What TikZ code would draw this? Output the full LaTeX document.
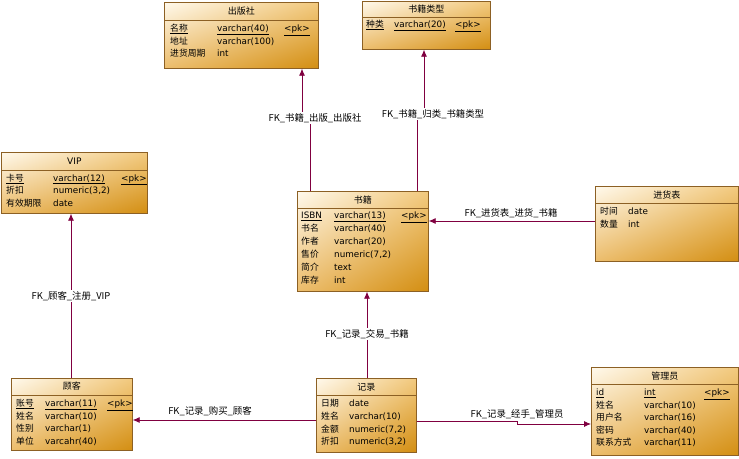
\documentclass[tikz,border=0pt]{standalone}
\usepackage{fontspec}
\setmainfont{DejaVu Sans}
\newfontfamily\cjk{Noto Sans CJK SC}
\usetikzlibrary{arrows.meta,shadings}
\definecolor{bord}{HTML}{8C6024}
\definecolor{fkc}{HTML}{800040}
\definecolor{ga}{HTML}{FFF9EC}
\definecolor{gb}{HTML}{F2C97E}
\definecolor{gc}{HTML}{ECBD6C}
\definecolor{gd}{HTML}{D38E12}
\tikzset{
 tbl/.style={draw=bord, line width=0.7pt, shade, upper left=ga, upper right=gb, lower left=gc, lower right=gd, inner sep=0pt, anchor=north west},
 hdr/.style={draw=bord, line width=0.7pt},
 ttl/.style={font=\cjk\fontsize{9}{10}\selectfont, inner sep=0pt},
 fld/.style={anchor=west, inner sep=0pt, text height=7pt, text depth=2pt, font=\fontsize{8.8}{10}\selectfont},
 fk/.style={draw=fkc, line width=0.8pt, -{Latex[length=7pt,width=6pt]}},
 fklab/.style={font=\cjk\fontsize{9.4}{10}\selectfont, fill=white, inner sep=1pt},
}
\begin{document}
\begin{tikzpicture}[x=1pt,y=-1pt]
\useasboundingbox (0,0) rectangle (739,458);
\fill[white] (0,0) rectangle (739,458);

% ---------- 出版社
\node[tbl, minimum width=154pt, minimum height=66pt] (pub) at (164,2) {};
\draw[hdr] ([yshift=-18pt]pub.north west) -- ([yshift=-18pt]pub.north east);
\node[ttl] (pub-t) at ([yshift=-9pt]pub.north) {出版社};
\node[fld] (pub-1a) at (170,29) {\cjk\underline{名称}};
\node[fld] (pub-1b) at (217,29) {\underline{varchar(40)}};
\node[fld] (pub-1c) at (284,29) {\underline{<pk>}};
\node[fld] (pub-2a) at (170,41.5) {\cjk 地址};
\node[fld] (pub-2b) at (217,41.5) {varchar(100)};
\node[fld] (pub-3a) at (170,54) {\cjk 进货周期};
\node[fld] (pub-3b) at (217,54) {int};

% ---------- 书籍类型
\node[tbl, minimum width=128pt, minimum height=48pt] (cat) at (362,1) {};
\draw[hdr] ([yshift=-16pt]cat.north west) -- ([yshift=-16pt]cat.north east);
\node[ttl] (cat-t) at ([yshift=-8pt]cat.north) {书籍类型};
\node[fld] (cat-1a) at (366,25) {\cjk\underline{种类}};
\node[fld] (cat-1b) at (394,25) {\underline{varchar(20)}};
\node[fld] (cat-1c) at (455,25) {\underline{<pk>}};

% ---------- VIP
\node[tbl, minimum width=146pt, minimum height=61pt] (vip) at (1,152) {};
\draw[hdr] ([yshift=-18pt]vip.north west) -- ([yshift=-18pt]vip.north east);
\node[ttl, font=\fontsize{9}{10}\selectfont] (vip-t) at ([yshift=-9pt]vip.north) {VIP};
\node[fld] (vip-1a) at (6,178.5) {\cjk\underline{卡号}};
\node[fld] (vip-1b) at (53,178.5) {\underline{varchar(12)}};
\node[fld] (vip-1c) at (121,178.5) {\underline{<pk>}};
\node[fld] (vip-2a) at (6,191) {\cjk 折扣};
\node[fld] (vip-2b) at (53,191) {numeric(3,2)};
\node[fld] (vip-3a) at (6,203.5) {\cjk 有效期限};
\node[fld] (vip-3b) at (53,203.5) {date};

% ---------- 书籍
\node[tbl, minimum width=131pt, minimum height=100pt] (book) at (297,191) {};
\draw[hdr] ([yshift=-17pt]book.north west) -- ([yshift=-17pt]book.north east);
\node[ttl] (book-t) at ([yshift=-9pt]book.north) {书籍};
\node[fld] (book-1a) at (301,216) {\underline{ISBN}};
\node[fld] (book-1b) at (334,216) {\underline{varchar(13)}};
\node[fld] (book-1c) at (401,216) {\underline{<pk>}};
\node[fld] (book-2a) at (301,229) {\cjk 书名};
\node[fld] (book-2b) at (334,229) {varchar(40)};
\node[fld] (book-3a) at (301,242) {\cjk 作者};
\node[fld] (book-3b) at (334,242) {varchar(20)};
\node[fld] (book-4a) at (301,255) {\cjk 售价};
\node[fld] (book-4b) at (334,255) {numeric(7,2)};
\node[fld] (book-5a) at (301,268) {\cjk 简介};
\node[fld] (book-5b) at (334,268) {text};
\node[fld] (book-6a) at (301,281) {\cjk 库存};
\node[fld] (book-6b) at (334,281) {int};

% ---------- 进货表
\node[tbl, minimum width=143pt, minimum height=75pt] (jin) at (595,186) {};
\draw[hdr] ([yshift=-17pt]jin.north west) -- ([yshift=-17pt]jin.north east);
\node[ttl] (jin-t) at ([yshift=-9pt]jin.north) {进货表};
\node[fld] (jin-1a) at (600,212) {\cjk 时间};
\node[fld] (jin-1b) at (628,212) {date};
\node[fld] (jin-2a) at (600,225) {\cjk 数量};
\node[fld] (jin-2b) at (628,225) {int};

% ---------- 顾客
\node[tbl, minimum width=121pt, minimum height=72pt] (cust) at (11,378) {};
\draw[hdr] ([yshift=-17pt]cust.north west) -- ([yshift=-17pt]cust.north east);
\node[ttl] (cust-t) at ([yshift=-8.5pt]cust.north) {顾客};
\node[fld] (cust-1a) at (16,404) {\cjk\underline{账号}};
\node[fld] (cust-1b) at (45,404) {\underline{varchar(11)}};
\node[fld] (cust-1c) at (107,404) {\underline{<pk>}};
\node[fld] (cust-2a) at (16,416.5) {\cjk 姓名};
\node[fld] (cust-2b) at (45,416.5) {varchar(10)};
\node[fld] (cust-3a) at (16,429) {\cjk 性别};
\node[fld] (cust-3b) at (45,429) {varchar(1)};
\node[fld] (cust-4a) at (16,441.5) {\cjk 单位};
\node[fld] (cust-4b) at (45,441.5) {varcahr(40)};

% ---------- 记录
\node[tbl, minimum width=100pt, minimum height=74pt] (rec) at (316,378) {};
\draw[hdr] ([yshift=-17pt]rec.north west) -- ([yshift=-17pt]rec.north east);
\node[ttl] (rec-t) at ([yshift=-9pt]rec.north) {记录};
\node[fld] (rec-1a) at (321,404) {\cjk 日期};
\node[fld] (rec-1b) at (349,404) {date};
\node[fld] (rec-2a) at (321,417) {\cjk 姓名};
\node[fld] (rec-2b) at (349,417) {varchar(10)};
\node[fld] (rec-3a) at (321,429.5) {\cjk 金额};
\node[fld] (rec-3b) at (349,429.5) {numeric(7,2)};
\node[fld] (rec-4a) at (321,442) {\cjk 折扣};
\node[fld] (rec-4b) at (349,442) {numeric(3,2)};

% ---------- 管理员
\node[tbl, minimum width=147pt, minimum height=88pt] (adm) at (591,367) {};
\draw[hdr] ([yshift=-17pt]adm.north west) -- ([yshift=-17pt]adm.north east);
\node[ttl] (adm-t) at ([yshift=-9pt]adm.north) {管理员};
\node[fld] (adm-1a) at (596,393) {\underline{id}};
\node[fld] (adm-1b) at (644,393) {\underline{int}};
\node[fld] (adm-1c) at (704,393) {\underline{<pk>}};
\node[fld] (adm-2a) at (596,405.5) {\cjk 姓名};
\node[fld] (adm-2b) at (644,405.5) {varchar(10)};
\node[fld] (adm-3a) at (596,418) {\cjk 用户名};
\node[fld] (adm-3b) at (644,418) {varchar(16)};
\node[fld] (adm-4a) at (596,430.5) {\cjk 密码};
\node[fld] (adm-4b) at (644,430.5) {varchar(40)};
\node[fld] (adm-5a) at (596,443) {\cjk 联系方式};
\node[fld] (adm-5b) at (644,443) {varchar(11)};

% ---------- connectors
\coordinate (j1a) at (310,118);
\coordinate (j1b) at (302,118);
\draw[fk] (j1a |- book.north) -- (j1a) -- (j1b) -- (j1b |- pub.south);
\node[fklab] (l1) at (315,118) {FK\_书籍\_出版\_出版社};

\coordinate (j2a) at (417,114);
\coordinate (j2b) at (424,114);
\draw[fk] (j2a |- book.north) -- (j2a) -- (j2b) -- (j2b |- cat.south);
\node[fklab] (l2) at (433,114) {FK\_书籍\_归类\_书籍类型};

\coordinate (j3) at (510,221);
\draw[fk] (j3 -| jin.west) -- (j3 -| book.east);
\node[fklab] (l3) at (511,213) {FK\_进货表\_进货\_书籍};

\coordinate (j4) at (71,296);
\draw[fk] (j4 |- cust.north) -- (j4 |- vip.south);
\node[fklab] (l4) at (71,296) {FK\_顾客\_注册\_VIP};

\coordinate (j5) at (367,334);
\draw[fk] (j5 |- rec.north) -- (j5 |- book.south);
\node[fklab] (l5) at (367,334) {FK\_记录\_交易\_书籍};

\coordinate (j6) at (220,420);
\draw[fk] (j6 -| rec.west) -- (j6 -| cust.east);
\node[fklab] (l6) at (210,411) {FK\_记录\_购买\_顾客};

\coordinate (j7a) at (517,421);
\coordinate (j7b) at (517,424);
\draw[fk] (j7a -| rec.east) -- (j7a) -- (j7b) -- (j7b -| adm.west);
\node[fklab] (l7) at (517,414) {FK\_记录\_经手\_管理员};
\end{tikzpicture}
\end{document}
